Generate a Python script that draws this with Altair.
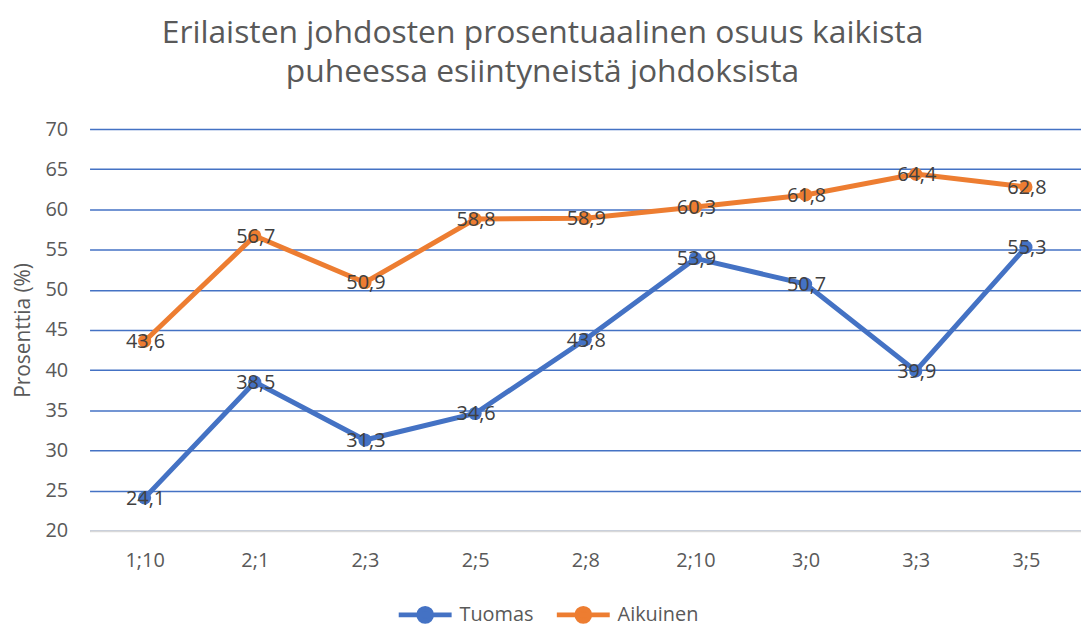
import altair as alt
import pandas as pd

categories = ["1;10", "2;1", "2;3", "2;5", "2;8", "2;10", "3;0", "3;3", "3;5"]
tuomas = [24.1, 38.5, 31.3, 34.6, 43.8, 53.9, 50.7, 39.9, 55.3]
aikuinen = [43.6, 56.7, 50.9, 58.8, 58.9, 60.3, 61.8, 64.4, 62.8]
series_names = ["Tuomas", "Aikuinen"]
series_colors = ["#4472C4", "#ED7D31"]
y_ticks = [20, 25, 30, 35, 40, 45, 50, 55, 60, 65, 70]

rows = []
for name, vals in zip(series_names, [tuomas, aikuinen]):
    for c, v in zip(categories, vals):
        rows.append({"cat": c, "value": v, "series": name,
                     "label": f"{v:.1f}".replace(".", ",")})
df = pd.DataFrame(rows)

FONT = "Open Sans"

legend_symbol = "M-0.95,0H0.95M-0.23,0A0.23,0.23 0 1,0 0.23,0A0.23,0.23 0 1,0 -0.23,0"

x = alt.X("cat:N", sort=categories, title=None,
          scale=alt.Scale(paddingInner=0, paddingOuter=0, align=0.5),
          axis=alt.Axis(labelAngle=0, labelFontSize=20, labelColor="#595959",
                        labelFont=FONT, labelPadding=20, ticks=False,
                        domain=True, domainColor="#D9D9D9", domainWidth=2,
                        grid=False))
y = alt.Y("value:Q", title="Prosenttia (%)",
          scale=alt.Scale(domain=[20, 70], nice=False, zero=False),
          axis=alt.Axis(values=y_ticks, labelFontSize=20, labelColor="#595959",
                        labelFont=FONT, labelPadding=22, ticks=False, domain=False,
                        grid=True, gridColor="#4472C4", gridWidth=1.5,
                        titleFont=FONT, titleFontSize=21, titleColor="#595959",
                        titleFontWeight="normal", titlePadding=12))
color = alt.Color("series:N", sort=series_names,
                  scale=alt.Scale(domain=series_names, range=series_colors),
                  legend=alt.Legend(title=None, orient="none", direction="horizontal",
                                    legendX=307, legendY=458,
                                    symbolType=legend_symbol, symbolSize=3136,
                                    symbolStrokeWidth=5, symbolFillColor=None,
                                    labelFont=FONT, labelFontSize=20,
                                    labelColor="#595959", columnPadding=12,
                                    labelOffset=4))

base = alt.Chart(df)
lines = base.mark_line(strokeWidth=5).encode(x=x, y=y, color=color)
points = base.mark_point(filled=True, size=175, opacity=1).encode(
    x=x, y=y, color=alt.Color("series:N", sort=series_names,
                              scale=alt.Scale(domain=series_names, range=series_colors),
                              legend=None))
labels = base.mark_text(fontSize=20, font=FONT, color="#404040",
                        baseline="middle", align="center", dx=1, dy=1).encode(
    x=x, y=y, text="label:N")

chart = alt.layer(lines, points, labels).properties(
    width=997, height=404,
    autosize=alt.AutoSizeParams(type="none"),
    padding={"left": 82, "top": 120, "right": 0, "bottom": 96},
    title=alt.TitleParams(
        ["Erilaisten johdosten prosentuaalinen osuus kaikista",
         "puheessa esiintyneistä johdoksista"],
        font=FONT, fontSize=32, fontWeight="normal", color="#595959",
        anchor="middle", frame="group", dx=-43, offset=30, lineHeight=40),
).configure_view(stroke=None)

chart.save("out.html", embed_options={"renderer": "svg", "actions": False})
